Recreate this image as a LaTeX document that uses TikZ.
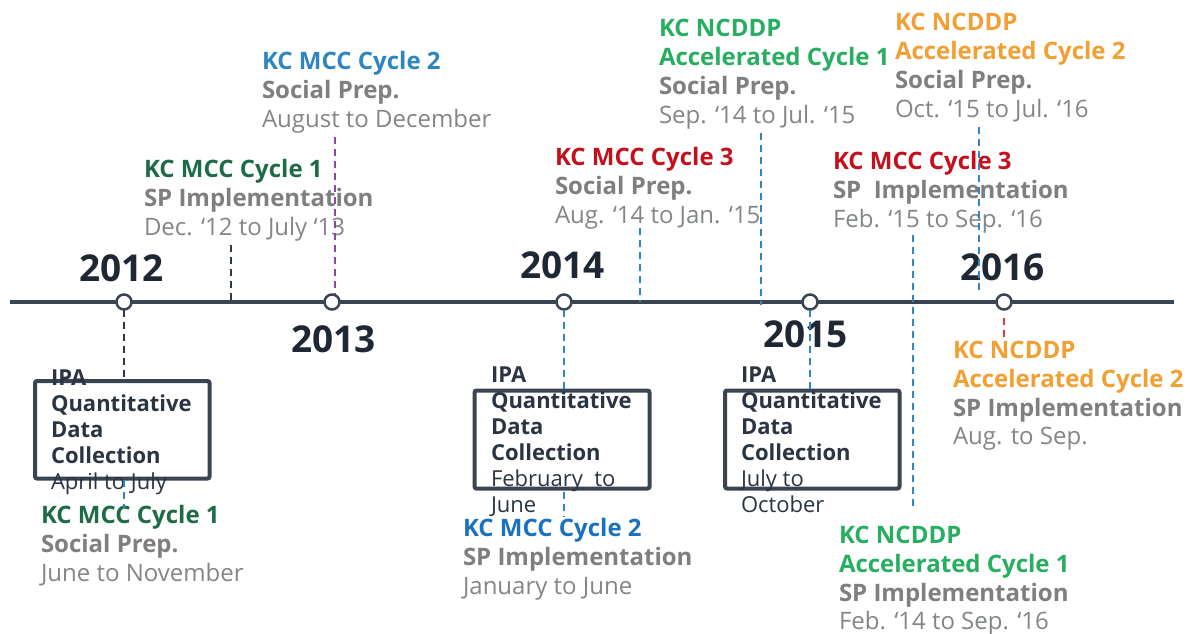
\documentclass[tikz,border=0pt]{standalone}
\usepackage{fontspec}
\setmainfont{Open Sans}
\definecolor{axis}{HTML}{3B4452}
\definecolor{yeardark}{HTML}{1E2733}
\definecolor{navy}{HTML}{2A3443}
\definecolor{cblue}{HTML}{2E86C1}
\definecolor{cblueb}{HTML}{1A72BF}
\definecolor{dgreen}{HTML}{1E6B48}
\definecolor{lgreen}{HTML}{27AE60}
\definecolor{cred}{HTML}{C4101C}
\definecolor{corange}{HTML}{F29F33}
\definecolor{subgray}{HTML}{7E7F80}
\definecolor{dategray}{HTML}{838688}
\definecolor{dashblue}{HTML}{2F86C6}
\definecolor{dashdark}{HTML}{2C3A4B}
\definecolor{dashpurple}{HTML}{9043B0}
\definecolor{dashred}{HTML}{E23A3A}
\tikzset{
  lab/.style={anchor=base west, inner sep=0pt, outer sep=0pt},
  head/.style={lab, font=\fontsize{24}{29}\selectfont\bfseries},
  sub/.style={lab, font=\fontsize{24}{29}\selectfont\bfseries, text=subgray},
  when/.style={lab, font=\fontsize{24}{29}\selectfont, text=dategray},
  yr/.style={lab, font=\fontsize{37}{40}\selectfont\bfseries, text=yeardark},
  boxtxt/.style={lab, font=\fontsize{22}{26}\selectfont\bfseries, text=navy},
  boxwhen/.style={lab, font=\fontsize{22}{26}\selectfont, text=navy},
  ipabox/.style={draw=axis, line width=4pt, rounded corners=2pt, inner sep=0pt, outer sep=0pt},
  yearpt/.style={circle, draw=axis, fill=white, line width=2.5pt, minimum size=15pt, inner sep=0pt, outer sep=0pt},
  conn/.style={dash pattern=on 7pt off 5pt, line width=1.8pt},
}
\begin{document}
\begin{tikzpicture}[x=1pt,y=-1pt]
\useasboundingbox (0,0) rectangle (1192,633);
\fill[white] (0,0) rectangle (1192,633);

% main axis
\coordinate (tl0) at (10,302);
\coordinate (tl1) at (1174,302);
\draw[axis, line width=4pt] (tl0) -- (tl1);

% year markers
\node[yearpt] (c12) at (124,302) {};
\node[yearpt] (c13) at (332,302) {};
\node[yearpt] (c14) at (564,302) {};
\node[yearpt] (c15) at (810,302) {};
\node[yearpt] (c16) at (1004,302) {};

\node[yr] (y12) at (79,281) {2012};
\node[yr] (y13) at (291,352) {2013};
\node[yr] (y14) at (520,278) {2014};
\node[yr] (y15) at (763,347) {2015};
\node[yr] (y16) at (960,280) {2016};

% IPA data collection boxes
\node[ipabox, minimum width=174.5pt, minimum height=97.5pt] (b1) at (122.25,429.75) {};
\node[ipabox, minimum width=175pt, minimum height=98pt] (b2) at (562,439.5) {};
\node[ipabox, minimum width=174.5pt, minimum height=98pt] (b3) at (812.25,439.5) {};

\node[boxtxt] (b1a) at (51,385) {IPA};
\node[boxtxt] (b1b) at (51,411) {Quantitative};
\node[boxtxt] (b1c) at (51,437) {Data};
\node[boxtxt] (b1d) at (51,463) {Collection};
\node[boxwhen] (b1e) at (51,489) {April to July};

\node[boxtxt] (b2a) at (491,382) {IPA};
\node[boxtxt] (b2b) at (491,408) {Quantitative};
\node[boxtxt] (b2c) at (491,434) {Data};
\node[boxtxt] (b2d) at (491,460) {Collection};
\node[boxwhen] (b2e) at (491,486) {February~~to};
\node[boxwhen] (b2f) at (491,512) {June};

\node[boxtxt] (b3a) at (741,382) {IPA};
\node[boxtxt] (b3b) at (741,408) {Quantitative};
\node[boxtxt] (b3c) at (741,434) {Data};
\node[boxtxt] (b3d) at (741,460) {Collection};
\node[boxwhen] (b3e) at (741,486) {July to};
\node[boxwhen] (b3f) at (741,512) {October};

% labels above the axis
\node[head, text=cblue] (m2sa) at (262,69) {KC MCC Cycle 2};
\node[sub] (m2sb) at (262,98) {Social Prep.};
\node[when] (m2sc) at (262,127) {August to December};

\node[head, text=dgreen] (m1ia) at (144,177) {KC MCC Cycle 1};
\node[sub] (m1ib) at (144,206) {SP Implementation};
\node[when] (m1ic) at (144,235) {Dec. ‘12 to July ‘13};

\node[head, text=cred] (m3sa) at (555,165) {KC MCC Cycle 3};
\node[sub] (m3sb) at (555,194) {Social Prep.};
\node[when] (m3sc) at (555,223) {Aug. ‘14 to Jan. ‘15};

\node[head, text=lgreen] (n1sa) at (659,36) {KC NCDDP};
\node[head, text=lgreen] (n1sb) at (659,65) {Accelerated Cycle 1};
\node[sub] (n1sc) at (659,94) {Social Prep.};
\node[when] (n1sd) at (659,123) {Sep. ‘14 to Jul. ‘15};

\node[head, text=corange] (n2sa) at (895,30) {KC NCDDP};
\node[head, text=corange] (n2sb) at (895,59) {Accelerated Cycle 2};
\node[sub] (n2sc) at (895,88) {Social Prep.};
\node[when] (n2sd) at (895,117) {Oct. ‘15 to Jul. ‘16};

\node[head, text=cred] (m3ia) at (833,169) {KC MCC Cycle 3};
\node[sub] (m3ib) at (833,198) {SP~~Implementation};
\node[when] (m3ic) at (833,227) {Feb. ‘15 to Sep. ‘16};

% labels below the axis
\node[head, text=dgreen] (m1sa) at (41,523) {KC MCC Cycle 1};
\node[sub] (m1sb) at (41,552) {Social Prep.};
\node[when] (m1sc) at (41,581) {June to November};

\node[head, text=cblueb] (m2ia) at (463,536) {KC MCC Cycle 2};
\node[sub] (m2ib) at (463,565) {SP Implementation};
\node[when] (m2ic) at (463,594) {January to June};

\node[head, text=lgreen] (n1ia) at (839,543) {KC NCDDP};
\node[head, text=lgreen] (n1ib) at (839,572) {Accelerated Cycle 1};
\node[sub] (n1ic) at (839,601) {SP Implementation};
\node[when] (n1id) at (839,629) {Feb. ‘14 to Sep. ‘16};

\node[head, text=corange] (n2ia) at (953,358) {KC NCDDP};
\node[head, text=corange] (n2ib) at (953,387) {Accelerated Cycle 2};
\node[sub] (n2ic) at (953,416) {SP Implementation};
\node[when] (n2id) at (953,444) {Aug. to Sep.};

% dashed leaders
\coordinate (d2a) at (124,480);  \coordinate (d2b) at (124,508);
\coordinate (d3a) at (231,245);  \coordinate (d3b) at (231,300);
\coordinate (d4a) at (335,137);  \coordinate (d4b) at (335,294);
\coordinate (d5a) at (564,492);  \coordinate (d5b) at (564,517);
\coordinate (d6a) at (640,228);  \coordinate (d6b) at (640,302);
\coordinate (d7a) at (761,133);  \coordinate (d7b) at (761,305);
\coordinate (d9a) at (913,235);  \coordinate (d9b) at (913,510);
\coordinate (d10a) at (979,127); \coordinate (d10b) at (979,290);
\coordinate (d11a) at (1004,318); \coordinate (d11b) at (1004,340);

\draw[conn, dashdark] (c12.south) -- (c12.south |- b1.north);
\draw[conn, dashblue] (d2a) -- (d2b);
\draw[conn, dashdark] (d3a) -- (d3b);
\draw[conn, dashpurple] (d4a) -- (d4b);
\draw[conn, dashblue] (c14.south) -- (c14.south |- b2.north);
\draw[conn, dashblue] (d5a) -- (d5b);
\draw[conn, dashblue] (d6a) -- (d6b);
\draw[conn, dashblue] (d7a) -- (d7b);
\draw[conn, dashblue] (c15.south) -- (c15.south |- b3.north);
\draw[conn, dashblue] (d9a) -- (d9b);
\draw[conn, dashblue] (d10a) -- (d10b);
\draw[conn, dashred] (d11a) -- (d11b);
\end{tikzpicture}
\end{document}
